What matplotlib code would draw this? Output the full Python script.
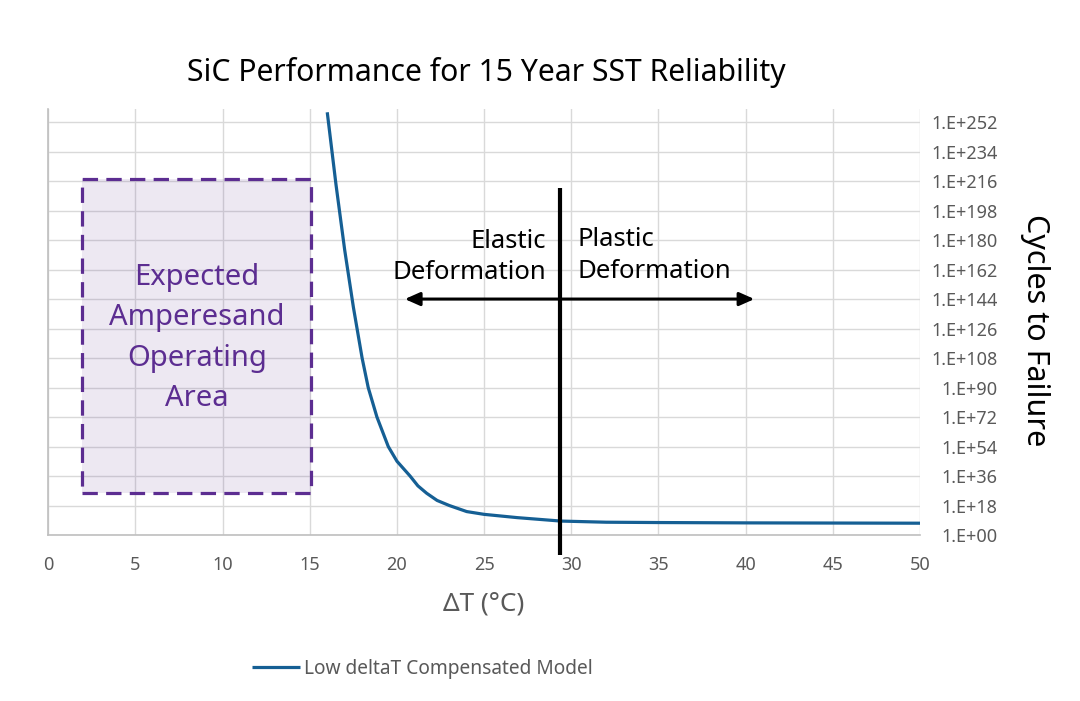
import matplotlib
matplotlib.use("Agg")
import matplotlib.pyplot as plt
from matplotlib.patches import Rectangle
from matplotlib.ticker import FixedLocator, FuncFormatter, NullLocator
import numpy as np

# ---- data ----
delta_t = [16.0, 16.5, 17.0, 17.5, 18.0, 18.35, 18.85, 19.5, 20.0, 20.75, 21.2,
           21.7, 22.3, 23.0, 24.0, 25.0, 26.9, 29.4, 32.0, 35.0, 40.0, 45.0, 50.0]
cycles_exp = [258, 214, 174, 139, 108, 90, 72, 54, 45, 36, 30,
              25.5, 21.1, 18.0, 14.3, 12.6, 10.6, 8.5, 7.8, 7.6, 7.4, 7.3, 7.2]
cycles = [10.0 ** e for e in cycles_exp]

x_ticks = [0, 5, 10, 15, 20, 25, 30, 35, 40, 45, 50]
y_tick_exps = list(range(0, 253, 18))

series_label = "Low deltaT Compensated Model"
title = "SiC Performance for 15 Year SST Reliability"
x_label = "ΔT (°C)"
y_label = "Cycles to Failure"

box_x = (1.96, 15.08)
box_exp = (25.6, 217.2)
box_text = "Expected\nAmperesand\nOperating\nArea"
transition_x = 29.35
transition_top_exp = 211.7
arrow_exp = 144
arrow_x = (20.45, 40.5)

FONT = ["Noto Sans", "DejaVu Sans"]
plt.rcParams["font.family"] = FONT

GRAY = "#595959"
BLUE = "#155f94"
PURPLE = "#5c2d91"

fig = plt.figure(figsize=(10.8, 7.01), dpi=100)
ax = fig.add_axes([48.3 / 1080, 1 - 535 / 701, (920 - 48.3) / 1080, (535 - 109) / 701])

ax.set_yscale("log")
ax.set_xlim(0, 50)
ax.set_ylim(1, 1e260)

ax.plot(delta_t, cycles, color=BLUE, lw=2.3, label=series_label, zorder=4,
        solid_capstyle="butt", solid_joinstyle="round")

# grid
ax.xaxis.set_major_locator(FixedLocator(x_ticks))
ax.yaxis.set_major_locator(FixedLocator([10.0 ** e for e in y_tick_exps]))
ax.yaxis.set_minor_locator(NullLocator())
ax.yaxis.set_major_formatter(FuncFormatter(lambda v, p: "1.E+%02d" % int(round(np.log10(v)))))
ax.grid(True, color="#d9d9d9", lw=1.0, zorder=0)
ax.set_axisbelow(True)

for s in ["top", "right"]:
    ax.spines[s].set_visible(False)
for s in ["left", "bottom"]:
    ax.spines[s].set_color("#bfbfbf")
    ax.spines[s].set_linewidth(1.2)

ax.tick_params(axis="x", length=0, pad=15, labelsize=13, labelcolor=GRAY)
ax.tick_params(axis="y", which="both", left=False, right=False, length=0,
               labelleft=False, labelright=True, pad=56, labelsize=13, labelcolor=GRAY)
for lab in ax.get_yticklabels():
    lab.set_horizontalalignment("right")

# purple operating area box
ax.add_patch(Rectangle((box_x[0], 10 ** box_exp[0]), box_x[1] - box_x[0],
                       10 ** box_exp[1] - 10 ** box_exp[0],
                       facecolor=(0.36, 0.18, 0.57, 0.11), edgecolor="none", zorder=2))
ax.add_patch(Rectangle((box_x[0], 10 ** box_exp[0]), box_x[1] - box_x[0],
                       10 ** box_exp[1] - 10 ** box_exp[0],
                       facecolor="none", edgecolor=PURPLE, lw=2.3,
                       linestyle=(0, (4.8, 2.6)), zorder=3))
ax.text((box_x[0] + box_x[1]) / 2, 10 ** 120.3, box_text, ha="center", va="center",
        color=PURPLE, fontsize=21, linespacing=1.52, zorder=5)

# transition line
ax.plot([transition_x, transition_x], [10 ** transition_top_exp, 10 ** -12.5],
        color="black", lw=3, clip_on=False, zorder=6, solid_capstyle="butt")

# double arrow
for ax_end in arrow_x:
    ax.annotate("", xy=(ax_end, 10 ** arrow_exp), xytext=(transition_x, 10 ** arrow_exp),
                arrowprops=dict(arrowstyle="-|>,head_length=0.9,head_width=0.4", color="black",
                                lw=2.2, shrinkA=0, shrinkB=0), zorder=6)

fig.text(546 / 1080, 1 - 257 / 701, "Elastic\nDeformation", ha="right", va="center",
         fontsize=18.5, linespacing=1.32, color="black")
fig.text(578 / 1080, 1 - 255.5 / 701, "Plastic\nDeformation", ha="left", va="center",
         fontsize=18.5, linespacing=1.32, color="black")

# titles & labels
fig.text(486 / 1080, 1 - 72 / 701, title, ha="center", va="center", fontsize=21.7, color="black")
fig.text(484 / 1080, 1 - 604 / 701, x_label, ha="center", va="center", fontsize=18.8, color=GRAY)
fig.text(1035 / 1080, 1 - 330 / 701, y_label, ha="center", va="center", rotation=270,
         fontsize=22, color="black")

leg = fig.legend(loc="center left", bbox_to_anchor=(252 / 1080, 1 - 669 / 701),
                 frameon=False, fontsize=13.8, handlelength=2.5, handletextpad=0.2,
                 borderpad=0, borderaxespad=0)
for t in leg.get_texts():
    t.set_color(GRAY)

fig.savefig("out.png", dpi=100, facecolor="white")
